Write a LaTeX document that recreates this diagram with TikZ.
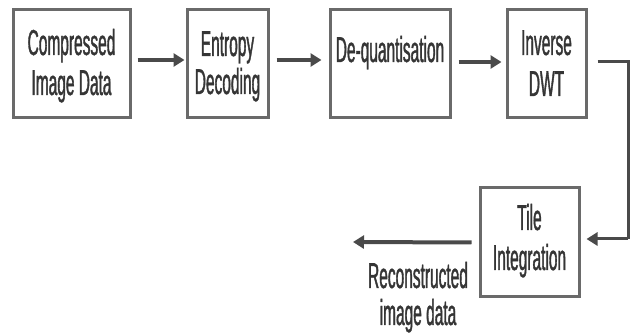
\documentclass[tikz,border=0pt]{standalone}
\usepackage{fontspec}
\setmainfont{Liberation Sans}[FakeStretch=0.43,FakeBold=1]
\usetikzlibrary{arrows.meta}
\definecolor{boxc}{HTML}{6A6A6A}
\definecolor{txtc}{HTML}{353535}
\definecolor{arrc}{HTML}{4A4A4A}
\begin{document}
\begin{tikzpicture}[x=1pt,y=-1pt,
  box/.style={draw=boxc, line width=3pt, minimum width=#1, minimum height=108pt, inner sep=0pt},
  txt/.style={anchor=base, text=txtc, font=\fontsize{36}{40}\selectfont, inner sep=0pt},
  arr/.style={draw=arrc, line width=4pt, -{Triangle[length=11pt,width=13pt]}},
  link/.style={draw=arrc, line width=3pt}]
\fill[white] (0,0) rectangle (637,336);
\useasboundingbox (0,0) rectangle (637,336);
% boxes
\node[box=117pt] (b1) at (71.5,64) {};
\node[box=81pt]  (b2) at (227.5,64) {};
\node[box=120pt] (b3) at (390,64) {};
\node[box=79pt]  (b4) at (546.5,64) {};
\node[box=99pt, minimum height=109pt] (b5) at (529.5,242.5) {};
% texts
\node[txt] (t1a) at (71.5,55) {Compressed};
\node[txt] (t1b) at (71.5,95) {Image Data};
\node[txt] (t2a) at (227.5,56) {Entropy};
\node[txt] (t2b) at (227.5,94) {Decoding};
\node[txt] (t3) at (390,62) {De-quantisation};
\node[txt] (t4a) at (546.5,55) {Inverse};
\node[txt] (t4b) at (546.5,96) {DWT};
\node[txt] (t5a) at (529.5,230) {Tile};
\node[txt] (t5b) at (529.5,270) {Integration};
\node[txt] (o1) at (418,288) {Reconstructed};
\node[txt] (o2) at (418,325) {image data};
% connectors
\coordinate (k) at (628,239);
\coordinate (out) at (353,242);
\draw[arr] ([xshift=6pt,yshift=4pt]b1.east) -- ([xshift=-1pt,yshift=4pt]b2.west);
\draw[arr] ([xshift=7pt,yshift=4pt]b2.east) -- ([xshift=-7pt,yshift=4pt]b3.west);
\draw[arr] ([xshift=7pt,yshift=2pt]b3.east) -- ([xshift=-4pt,yshift=2pt]b4.west);
\draw[link] ([xshift=10pt,yshift=2pt]b4.east) -| (k);
\draw[link, -{Triangle[length=11pt,width=13pt]}] (k) -- ([xshift=6pt,yshift=3.5pt]b5.east);
\draw[arr] ([xshift=-7pt]b5.west) -- (out);
\end{tikzpicture}
\end{document}
